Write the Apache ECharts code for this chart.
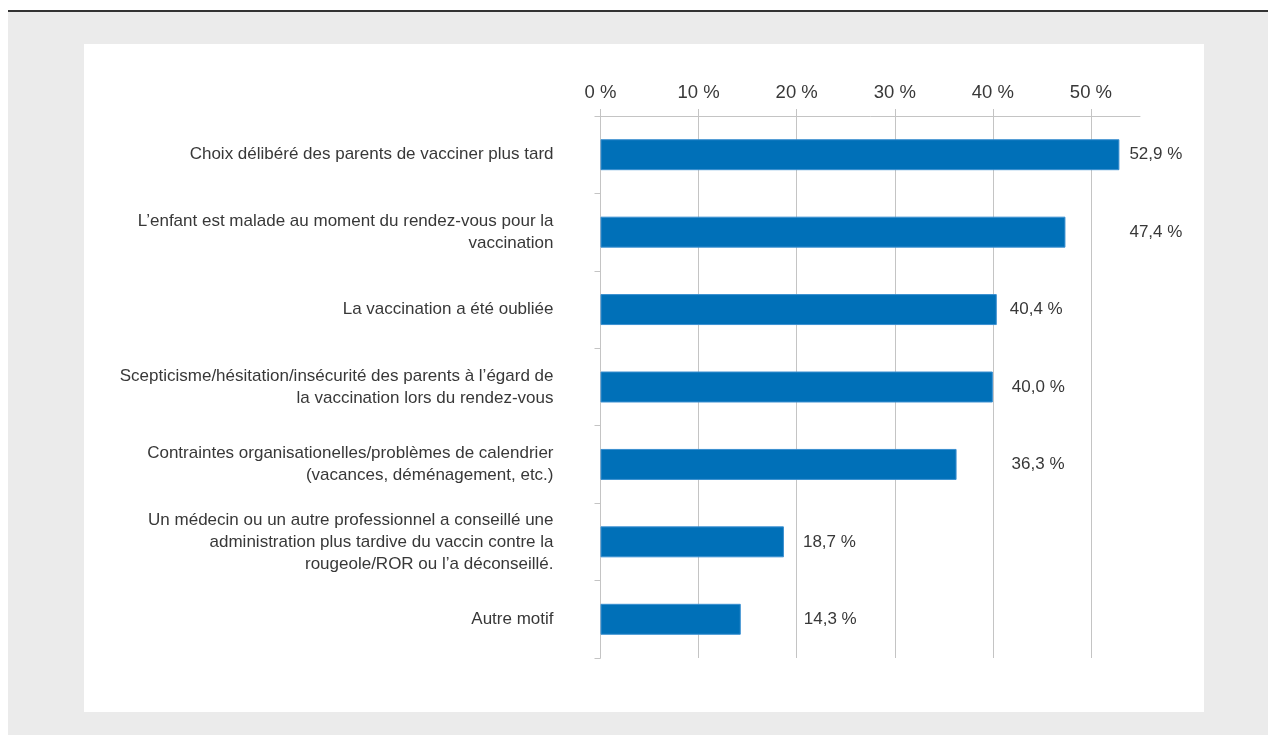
<!DOCTYPE html>
<html>
<head>
<meta charset="utf-8">
<script src="https://cdn.jsdelivr.net/npm/echarts@6/dist/echarts.min.js"></script>
<style>
html,body{margin:0;padding:0;background:#fff;}
#chart{width:1268px;height:735px;}
</style>
</head>
<body>
<div id="chart"></div>
<script>
const categories = [
  "Choix délibéré des parents de vacciner plus tard",
  "L’enfant est malade au moment du rendez-vous pour la\nvaccination",
  "La vaccination a été oubliée",
  "Scepticisme/hésitation/insécurité des parents à l’égard de\nla vaccination lors du rendez-vous",
  "Contraintes organisationelles/problèmes de calendrier\n(vacances, déménagement, etc.)",
  "Un médecin ou un autre professionnel a conseillé une\nadministration plus tardive du vaccin contre la\nrougeole/ROR ou l’a déconseillé.",
  "Autre motif"
];
const values = [52.9, 47.4, 40.4, 40.0, 36.3, 18.7, 14.3];
const tickValues = [0, 10, 20, 30, 40, 50];
const tickLabels = ["0 %", "10 %", "20 %", "30 %", "40 %", "50 %"];

// label gap from bar end (styling only)
const labelGaps = [10, 64, 13, 19, 55, 19, 63];

const textColor = '#383838';
const lineColor = '#c4c4c4';
const font = '"Liberation Sans", Arial, Helvetica, sans-serif';

const chart = echarts.init(document.getElementById('chart'), null, {renderer: 'canvas'});

const option = {
  backgroundColor: '#ffffff',
  animation: false,
  graphic: [
    { type: 'rect', z: -10, shape: {x: 8, y: 10, width: 1260, height: 2}, style: {fill: '#333333'} },
    { type: 'rect', z: -10, shape: {x: 8, y: 12, width: 1260, height: 723}, style: {fill: '#ebebeb'} },
    { type: 'rect', z: -9, shape: {x: 84, y: 44, width: 1120, height: 668}, style: {fill: '#ffffff'} }
  ],
  grid: { left: 600.5, top: 116, right: 128, bottom: 77, containLabel: false },
  xAxis: {
    type: 'value',
    position: 'top',
    min: 0,
    max: 55,
    interval: 10,
    axisLine: { show: true, lineStyle: { color: lineColor, width: 1 } },
    axisTick: {
      show: true, inside: false, length: 7,
      customValues: tickValues,
      lineStyle: { color: lineColor }
    },
    axisLabel: {
      margin: 14,
      color: textColor,
      fontFamily: font,
      fontSize: 18.5,
      customValues: tickValues,
      formatter: function (v) {
        const i = tickValues.indexOf(v);
        return i >= 0 ? tickLabels[i] : '';
      }
    },
    splitLine: { show: true, showMinLine: true, showMaxLine: true, lineStyle: { color: lineColor, width: 1 } }
  },
  yAxis: {
    type: 'category',
    data: categories,
    inverse: true,
    axisLine: { show: true, lineStyle: { color: lineColor, width: 1 } },
    axisTick: { show: true, length: 6, alignWithLabel: false, lineStyle: { color: lineColor } },
    axisLabel: {
      margin: 47,
      color: textColor,
      fontFamily: font,
      fontSize: 17,
      lineHeight: 22,
      align: 'right'
    },
    splitLine: { show: false }
  },
  series: [{
    type: 'bar',
    barWidth: '40%',
    data: values.map(function (v, i) {
      return {
        value: v,
        label: { distance: labelGaps[i] }
      };
    }),
    itemStyle: { color: '#0070b8', borderColor: '#3a8fd0', borderWidth: 1 },
    label: {
      show: true,
      position: 'right',
      color: textColor,
      fontFamily: font,
      fontSize: 17,
      formatter: function (p) { return p.value.toFixed(1).replace('.', ',') + ' %'; }
    }
  }]
};
chart.setOption(option);
</script>
</body>
</html>
